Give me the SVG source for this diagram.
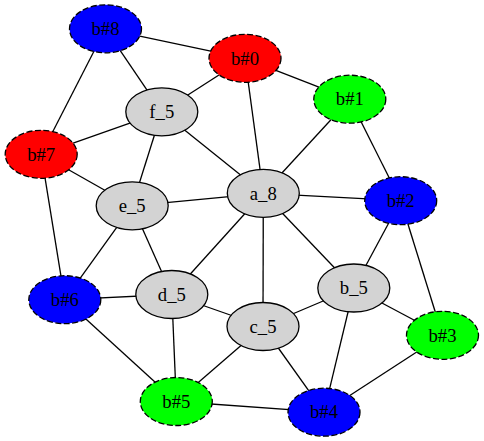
<svg xmlns="http://www.w3.org/2000/svg" width="484" height="441" viewBox="0 0 484 441">
<style>
.e line{stroke:#000;stroke-width:1.3}
ellipse{stroke:#000;stroke-width:1.3}
.d ellipse{stroke-dasharray:6,2.5}
.g{fill:#d3d3d3}
.r{fill:#ff0000}
.b{fill:#0000ff}
.gr{fill:#00ff00}
text{font-family:"Liberation Serif","Times New Roman",serif;font-size:18.67px;text-anchor:middle;fill:#000}
</style>
<rect width="484" height="441" fill="#fff"/>
<g class="e" id="edges">
<line x1="105.5" y1="28.8" x2="245" y2="58.3"/>
<line x1="105.5" y1="28.8" x2="161.8" y2="111.8"/>
<line x1="105.5" y1="28.8" x2="41.2" y2="154.3"/>
<line x1="245" y1="58.3" x2="161.8" y2="111.8"/>
<line x1="245" y1="58.3" x2="263.3" y2="193.3"/>
<line x1="245" y1="58.3" x2="349.8" y2="99.2"/>
<line x1="349.8" y1="99.2" x2="263.3" y2="193.3"/>
<line x1="349.8" y1="99.2" x2="400.7" y2="200.7"/>
<line x1="161.8" y1="111.8" x2="41.2" y2="154.3"/>
<line x1="161.8" y1="111.8" x2="132.2" y2="205.8"/>
<line x1="161.8" y1="111.8" x2="263.3" y2="193.3"/>
<line x1="41.2" y1="154.3" x2="132.2" y2="205.8"/>
<line x1="41.2" y1="154.3" x2="64.8" y2="299.7"/>
<line x1="132.2" y1="205.8" x2="263.3" y2="193.3"/>
<line x1="132.2" y1="205.8" x2="64.8" y2="299.7"/>
<line x1="132.2" y1="205.8" x2="171.8" y2="294.5"/>
<line x1="263.3" y1="193.3" x2="400.7" y2="200.7"/>
<line x1="263.3" y1="193.3" x2="171.8" y2="294.5"/>
<line x1="263.3" y1="193.3" x2="263" y2="326.5"/>
<line x1="263.3" y1="193.3" x2="353.8" y2="288"/>
<line x1="400.7" y1="200.7" x2="353.8" y2="288"/>
<line x1="400.7" y1="200.7" x2="442.5" y2="335.3"/>
<line x1="64.8" y1="299.7" x2="171.8" y2="294.5"/>
<line x1="64.8" y1="299.7" x2="176.3" y2="401.5"/>
<line x1="171.8" y1="294.5" x2="263" y2="326.5"/>
<line x1="171.8" y1="294.5" x2="176.3" y2="401.5"/>
<line x1="263" y1="326.5" x2="353.8" y2="288"/>
<line x1="263" y1="326.5" x2="176.3" y2="401.5"/>
<line x1="263" y1="326.5" x2="324" y2="412.2"/>
<line x1="353.8" y1="288" x2="442.5" y2="335.3"/>
<line x1="353.8" y1="288" x2="324" y2="412.2"/>
<line x1="442.5" y1="335.3" x2="324" y2="412.2"/>
<line x1="176.3" y1="401.5" x2="324" y2="412.2"/>
</g>
<g id="b8" class="d"><ellipse class="b" cx="105.5" cy="28.8" rx="36" ry="24"/><text x="105.5" y="35">b#8</text></g>
<g id="b0" class="d"><ellipse class="r" cx="245" cy="58.3" rx="36" ry="24"/><text x="245" y="64.5">b#0</text></g>
<g id="b1" class="d"><ellipse class="gr" cx="349.8" cy="99.2" rx="36" ry="24"/><text x="349.8" y="105.4">b#1</text></g>
<g id="f5"><ellipse class="g" cx="161.8" cy="111.8" rx="36" ry="24"/><text x="161.8" y="118">f_5</text></g>
<g id="b7" class="d"><ellipse class="r" cx="41.2" cy="154.3" rx="36" ry="24"/><text x="41.2" y="160.5">b#7</text></g>
<g id="a8"><ellipse class="g" cx="263.3" cy="193.3" rx="36" ry="24"/><text x="263.3" y="199.5">a_8</text></g>
<g id="b2" class="d"><ellipse class="b" cx="400.7" cy="200.7" rx="36" ry="24"/><text x="400.7" y="206.9">b#2</text></g>
<g id="e5"><ellipse class="g" cx="132.2" cy="205.8" rx="36" ry="24"/><text x="132.2" y="212">e_5</text></g>
<g id="b6" class="d"><ellipse class="b" cx="64.8" cy="299.7" rx="36" ry="24"/><text x="64.8" y="305.9">b#6</text></g>
<g id="d5"><ellipse class="g" cx="171.8" cy="294.5" rx="36" ry="24"/><text x="171.8" y="300.7">d_5</text></g>
<g id="b5n"><ellipse class="g" cx="353.8" cy="288" rx="36" ry="24"/><text x="353.8" y="294.2">b_5</text></g>
<g id="c5"><ellipse class="g" cx="263" cy="326.5" rx="36" ry="24"/><text x="263" y="332.7">c_5</text></g>
<g id="b3" class="d"><ellipse class="gr" cx="442.5" cy="335.3" rx="36" ry="24"/><text x="442.5" y="341.5">b#3</text></g>
<g id="b5" class="d"><ellipse class="gr" cx="176.3" cy="401.5" rx="36" ry="24"/><text x="176.3" y="407.7">b#5</text></g>
<g id="b4" class="d"><ellipse class="b" cx="324" cy="412.2" rx="36" ry="24"/><text x="324" y="418.4">b#4</text></g>
</svg>
